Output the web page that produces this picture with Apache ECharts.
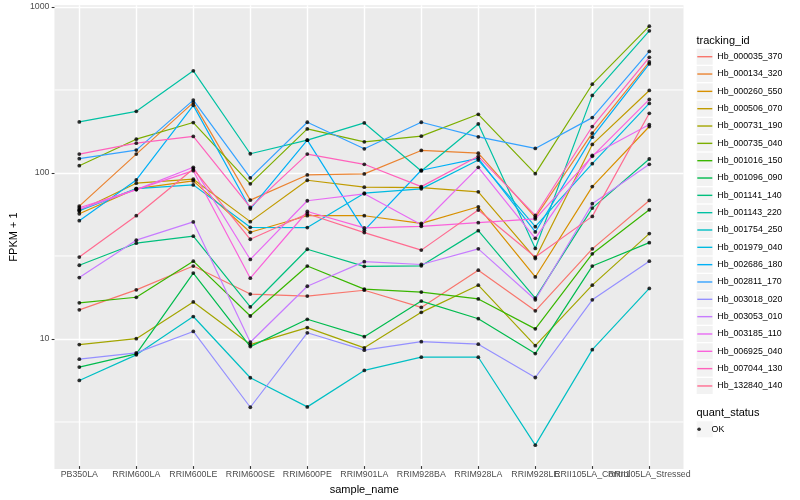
<!DOCTYPE html>
<html>
<head>
<meta charset="utf-8">
<script src="https://cdn.jsdelivr.net/npm/echarts@6/dist/echarts.min.js"></script>
<style>html,body{margin:0;padding:0;background:#fff}#chart{width:800px;height:500px}</style>
</head>
<body>
<div id="chart"></div>
<script>
// ---------------- data ----------------
const categories = ['PB350LA','RRIM600LA','RRIM600LE','RRIM600SE','RRIM600PE','RRIM901LA','RRIM928BA','RRIM928LA','RRIM928LE','RRII105LA_Control','RRII105LA_Stressed'];
const trackingIds = ['Hb_000035_370','Hb_000134_320','Hb_000260_550','Hb_000506_070','Hb_000731_190','Hb_000735_040','Hb_001016_150','Hb_001096_090','Hb_001141_140','Hb_001143_220','Hb_001754_250','Hb_001979_040','Hb_002686_180','Hb_002811_170','Hb_003018_020','Hb_003053_010','Hb_003185_110','Hb_006925_040','Hb_007044_130','Hb_132840_140'];
const quantStatus = ['OK'];
const yTickValues = [10, 100, 1000];

const Hb_000035_370 = [14.6, 19.3, 26.9, 18.2, 17.7, 19.2, 15.1, 25.4, 14.4, 34.2, 67.2];
const Hb_000134_320 = [62.1, 128.3, 263, 67.5, 95.9, 97.3, 135, 130, 53.0, 171.8, 464];
const Hb_000260_550 = [55.8, 79.3, 88.3, 43.1, 54.3, 54.3, 48.8, 61.5, 23.1, 81.5, 188.5];
const Hb_000506_070 = [58.2, 85.5, 90.4, 50.0, 89.1, 80.9, 80.4, 75.8, 29.9, 146.9, 311.9];
const Hb_000731_190 = [8.99, 9.77, 16.3, 8.99, 11.4, 8.59, 14.1, 20.6, 8.86, 20.6, 42.3];
const Hb_000735_040 = [109.1, 158, 199.3, 84.7, 182.3, 152.2, 164.8, 223.6, 97.7, 340.3, 765];
const Hb_001016_150 = [16.1, 17.4, 28.8, 13.4, 26.9, 19.5, 18.7, 17.0, 11.2, 31.9, 59.0];
const Hb_001096_090 = [6.57, 7.90, 24.4, 8.74, 12.8, 10.04, 16.5, 12.9, 7.93, 26.9, 37.3];
const Hb_001141_140 = [27.2, 37.0, 40.8, 15.2, 34.0, 26.8, 27.0, 44.1, 17.2, 60.4, 119.8];
const Hb_001143_220 = [201, 233, 410, 128.9, 155.8, 198.2, 101.4, 195.5, 34.4, 291, 717];
const Hb_001754_250 = [5.45, 7.79, 13.3, 5.66, 3.77, 6.27, 7.54, 7.54, 2.21, 8.38, 19.7];
const Hb_001979_040 = [58.2, 79.3, 83.5, 46.2, 46.0, 74.4, 79.0, 118.1, 46.6, 112.2, 260.4];
const Hb_002686_180 = [50.7, 89.5, 253.3, 59.8, 155.8, 44.3, 102.4, 121, 43.3, 162.5, 451.6];
const Hb_002811_170 = [120.3, 135.7, 272.6, 92.0, 200.1, 138.1, 200.1, 163.2, 138.9, 213.5, 538];
const Hb_003018_020 = [7.34, 8.01, 10.8, 3.75, 10.6, 8.32, 9.37, 9.04, 5.68, 16.8, 28.8];
const Hb_003053_010 = [22.9, 38.6, 49.8, 9.29, 20.3, 28.6, 27.5, 34.2, 16.8, 64.2, 111.3];
const Hb_003185_110 = [59.3, 78.2, 106.7, 29.5, 66.9, 73.7, 47.9, 106.7, 39.6, 126.1, 193.8];
const Hb_006925_040 = [60.7, 78.2, 101.8, 22.7, 57.6, 45.8, 46.8, 49.3, 51.9, 124.4, 275.3];
const Hb_007044_130 = [128.3, 149.5, 164.1, 61.0, 128.3, 111.3, 81.5, 124.4, 54.5, 188.5, 495];
const Hb_132840_140 = [30.5, 54.3, 104.3, 39.1, 55.8, 42.9, 33.6, 58.8, 30.5, 53.8, 226.7];

const seriesValues = [Hb_000035_370, Hb_000134_320, Hb_000260_550, Hb_000506_070, Hb_000731_190, Hb_000735_040, Hb_001016_150, Hb_001096_090, Hb_001141_140, Hb_001143_220, Hb_001754_250, Hb_001979_040, Hb_002686_180, Hb_002811_170, Hb_003018_020, Hb_003053_010, Hb_003185_110, Hb_006925_040, Hb_007044_130, Hb_132840_140];

// ---------------- styles ----------------
const palette = ['#F8766D','#EA8331','#D89000','#C09B00','#A3A500','#7CAE00','#39B600','#00BB4E','#00BF7D','#00C1A3','#00BFC4','#00BAE0','#00B0F6','#35A2FF','#9590FF','#C77CFF','#E76BF3','#FA62DB','#FF62BC','#FF6C91'];
const FONT = 'Liberation Sans, Arial, Helvetica, sans-serif';

// ggplot-like 5% expansion on the log scale
const allVals = [].concat(...seriesValues);
const lmin = Math.log10(Math.min(...allVals));
const lmax = Math.log10(Math.max(...allVals));
const pad = 0.05 * (lmax - lmin);
const YMIN = Math.pow(10, lmin - pad);
const YMAX = Math.pow(10, lmax + pad);
// minor breaks: half-way (in log space) below each major break
const minorBreaks = yTickValues.map(v => v / Math.sqrt(10));

const PANEL = {left: 45, top: 5.2, width: 638.5, height: 463.7};
const DATA = {left: 79.3, top: 5.2, width: 570, height: 463.7};

// minor grid lines: span the whole panel (x 0..1 on the panel's hidden x axis)
const minorGridSeries = minorBreaks.map((v, k) => ({
  name: 'minor' + k,
  type: 'line',
  xAxisIndex: 0,
  yAxisIndex: 0,
  data: [[0, v], [1, v]],
  symbol: 'none',
  silent: true,
  lineStyle: {color: '#FFFFFF', width: 1},
  emphasis: {disabled: true},
  animation: false,
  z: 1
}));

const lineSeries = trackingIds.map((name, i) => ({
  name: name,
  type: 'line',
  xAxisIndex: 1,
  yAxisIndex: 1,
  data: seriesValues[i],
  symbol: 'none',
  color: palette[i],
  lineStyle: {color: palette[i], width: 1.2},
  emphasis: {disabled: true},
  animation: false,
  z: 2
}));

const pointData = [];
seriesValues.forEach(vals => vals.forEach((v, j) => pointData.push([j, v])));

const option = {
  backgroundColor: '#FFFFFF',
  animation: false,
  textStyle: {fontFamily: FONT},
  title: [
    {text: 'tracking_id', left: 696.5, top: 34.5, padding: 0,
     textStyle: {fontSize: 11, fontWeight: 'normal', color: '#000', fontFamily: FONT, lineHeight: 13}},
    {text: 'quant_status', left: 696.5, top: 406.3, padding: 0,
     textStyle: {fontSize: 11, fontWeight: 'normal', color: '#000', fontFamily: FONT, lineHeight: 13}}
  ],
  grid: [
    Object.assign({show: true, backgroundColor: '#EBEBEB', borderWidth: 0, containLabel: false}, PANEL),
    Object.assign({show: false, containLabel: false}, DATA)
  ],
  xAxis: [
    {gridIndex: 0, type: 'value', min: 0, max: 1, show: false},
    {gridIndex: 1, type: 'category', data: categories, boundaryGap: false,
     axisLine: {show: false},
     axisTick: {show: true, interval: 0, length: 2.8, lineStyle: {color: '#333333', width: 1.07}},
     axisLabel: {interval: 0, margin: 4, fontSize: 8.8, color: '#4D4D4D', fontFamily: FONT, hideOverlap: false},
     splitLine: {show: true, interval: 0, lineStyle: {color: '#FFFFFF', width: 1.42}},
     name: 'sample_name', nameLocation: 'middle', nameGap: 14,
     nameTextStyle: {fontSize: 11, color: '#000', fontFamily: FONT}}
  ],
  yAxis: [
    {gridIndex: 0, type: 'log', logBase: 10, min: YMIN, max: YMAX, position: 'left',
     axisLine: {show: false},
     axisTick: {show: true, customValues: yTickValues, length: 2.8, lineStyle: {color: '#333333', width: 1.07}},
     axisLabel: {customValues: yTickValues, margin: 5, fontSize: 8.8, color: '#4D4D4D', fontFamily: FONT,
                 formatter: v => String(Math.round(v))},
     splitLine: {show: true, lineStyle: {color: '#FFFFFF', width: 1.42}},
     name: 'FPKM + 1', nameLocation: 'middle', nameGap: 27,
     nameTextStyle: {fontSize: 11, color: '#000', fontFamily: FONT}},
    {gridIndex: 1, type: 'log', logBase: 10, min: YMIN, max: YMAX, show: false}
  ],
  legend: [
    {id: 'keys', data: trackingIds, orient: 'vertical', left: 696.7, top: 48.7, padding: 0,
     itemGap: 1.33, itemWidth: 16, itemHeight: 16, icon: 'rect', selectedMode: false,
     itemStyle: {color: '#F2F2F2', borderWidth: 0},
     textStyle: {color: 'rgba(0,0,0,0)', fontSize: 8.8, lineHeight: 16, fontFamily: FONT}, z: 3},
    {id: 'lines', data: trackingIds.map((n, i) => ({name: n, itemStyle: {color: palette[i], borderWidth: 0}})),
     orient: 'vertical', left: 697.3, top: 48.7, padding: 0,
     itemGap: 1.33, itemWidth: 15, itemHeight: 1.4, icon: 'rect', selectedMode: false,
     itemStyle: {borderWidth: 0},
     textStyle: {color: '#000', fontSize: 8.8, lineHeight: 16, fontFamily: FONT}, z: 4},
    {id: 'okkey', data: quantStatus, orient: 'vertical', left: 696.7, top: 421.3, padding: 0,
     itemWidth: 16, itemHeight: 16, icon: 'rect', selectedMode: false,
     itemStyle: {color: '#F2F2F2', borderWidth: 0},
     textStyle: {color: 'rgba(0,0,0,0)', fontSize: 8.8, lineHeight: 16, fontFamily: FONT}, z: 3},
    {id: 'ok', data: quantStatus, orient: 'vertical', left: 697.3, top: 421.3, padding: 0,
     itemWidth: 15, itemHeight: 3.6, icon: 'circle', selectedMode: false,
     itemStyle: {color: '#000000', borderWidth: 0},
     textStyle: {color: '#000', fontSize: 8.8, lineHeight: 16, fontFamily: FONT}, z: 4}
  ],
  series: minorGridSeries.concat(lineSeries, [{
    name: quantStatus[0],
    type: 'scatter',
    xAxisIndex: 1,
    yAxisIndex: 1,
    data: pointData,
    symbol: 'circle',
    symbolSize: 3.8,
    itemStyle: {color: '#000000'},
    emphasis: {disabled: true},
    animation: false,
    z: 3
  }])
};

const chart = echarts.init(document.getElementById('chart'), null, {renderer: 'canvas'});
chart.setOption(option);
</script>
</body>
</html>
